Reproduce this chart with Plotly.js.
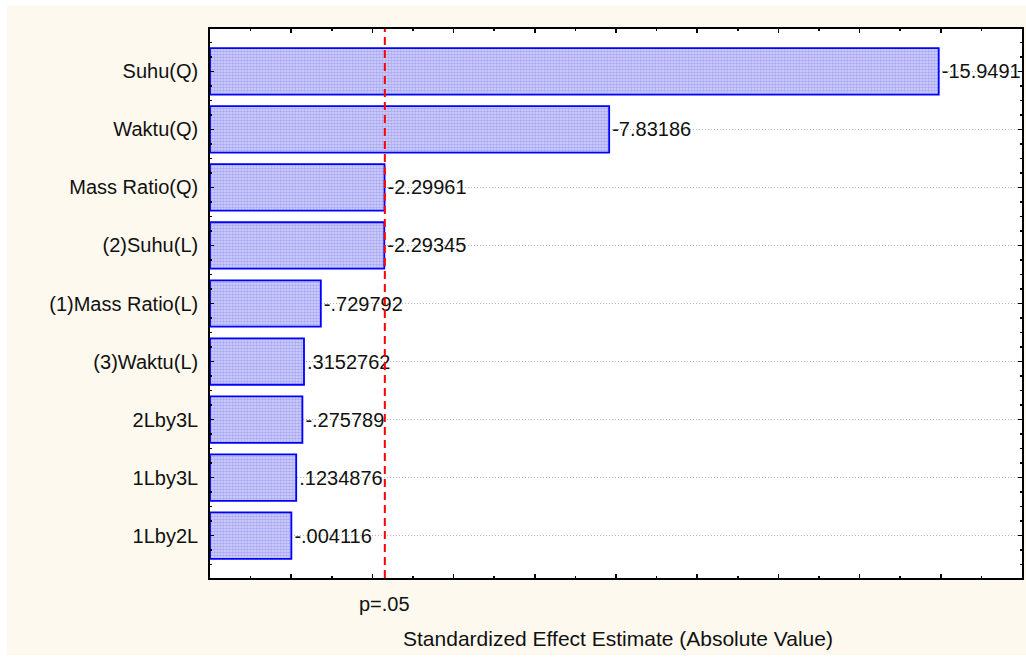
<!DOCTYPE html>
<html>
<head>
<meta charset="utf-8">
<script src="https://cdn.plot.ly/plotly-3.0.1.min.js"></script>
<style>
  html, body { margin: 0; padding: 0; background: #ffffff; width: 1026px; height: 657px; overflow: hidden; }
  #chart { position: absolute; left: 7px; top: 6px; width: 1019px; height: 649px; }
</style>
</head>
<body>
<div id="chart"></div>
<script>
// Effects (Pareto chart of standardized effects)
const factors = ["Suhu(Q)", "Waktu(Q)", "Mass Ratio(Q)", "(2)Suhu(L)", "(1)Mass Ratio(L)",
                 "(3)Waktu(L)", "2Lby3L", "1Lby3L", "1Lby2L"];
const effects = [-15.9491, -7.83186, -2.29961, -2.29345, -0.729792,
                 0.3152762, -0.275789, 0.1234876, -0.004116];
const pCritical = 2.306;
const pLabel = "p=.05";
const xTitle = "Standardized Effect Estimate (Absolute Value)";
const axisMin = -2;

function fmt(v) {
  return String(v).replace(/^(-?)0\./, "$1.");
}

const positions = factors.map((_, i) => i);
const absEffects = effects.map(v => Math.abs(v));
const labels = effects.map(fmt);

const font = { family: "Liberation Sans, Arial, sans-serif", size: 20, color: "#111111" };

const trace = {
  type: "bar",
  orientation: "h",
  y: positions,
  base: axisMin,
  x: absEffects.map(v => v - axisMin),   // bar runs from the axis start to |effect|
  width: 0.8,
  text: labels,
  textposition: "outside",
  textfont: font,
  cliponaxis: false,
  constraintext: "none",
  hoverinfo: "skip",
  marker: {
    color: "#c0c0f8",
    line: { color: "#0000ff", width: 1.8 },
    pattern: { shape: ".", size: 3, solidity: 0.6, fgcolor: "#a8a8f4", bgcolor: "#d8d8fc", fillmode: "replace" }
  }
};

const layout = {
  width: 1019,
  height: 649,
  margin: { l: 203, r: 4, t: 23, b: 77 },
  paper_bgcolor: "#fef9ee",
  plot_bgcolor: "#ffffff",
  showlegend: false,
  font: font,
  xaxis: {
    range: [axisMin, 18],
    dtick: 2,
    tick0: 0,
    ticks: "inside",
    ticklen: 4,
    tickwidth: 1.5,
    tickcolor: "#000",
    minor: { dtick: 1, ticks: "inside", ticklen: 2, tickwidth: 1.5, tickcolor: "#000" },
    showticklabels: false,
    showgrid: false,
    zeroline: false,
    showline: true,
    linecolor: "#000",
    linewidth: 1.8,
    mirror: "allticks",
    automargin: false
  },
  yaxis: {
    range: [8.73, -0.73],
    tickvals: positions,
    ticktext: factors,
    ticks: "inside",
    ticklen: 4,
    tickwidth: 1.5,
    tickcolor: "#000",
    minor: { dtick: 0.25, tick0: 0, ticks: "inside", ticklen: 2, tickwidth: 1.5, tickcolor: "#000", showgrid: false },
    ticklabelstandoff: 6,
    tickfont: font,
    showgrid: true,
    gridcolor: "#b4b4b4",
    griddash: "1px,2px",
    gridwidth: 1,
    zeroline: false,
    showline: true,
    linecolor: "#000",
    linewidth: 1.8,
    mirror: "allticks",
    automargin: false
  },
  shapes: [{
    type: "line",
    xref: "x", yref: "paper",
    x0: pCritical, x1: pCritical, y0: 0, y1: 1,
    line: { color: "#ff0000", width: 2, dash: "8px,5px" }
  }],
  annotations: [{
    xref: "x", yref: "paper",
    x: pCritical, y: 0,
    yshift: -26,
    text: pLabel,
    showarrow: false,
    font: font,
    xanchor: "center", yanchor: "middle"
  }, {
    xref: "paper", yref: "paper",
    x: 0.5, y: 0,
    xshift: 2,
    yshift: -60,
    text: xTitle,
    showarrow: false,
    font: { family: font.family, size: 21, color: font.color },
    xanchor: "center", yanchor: "middle"
  }]
};

Plotly.newPlot("chart", [trace], layout, { staticPlot: true, displayModeBar: false });
</script>
</body>
</html>
